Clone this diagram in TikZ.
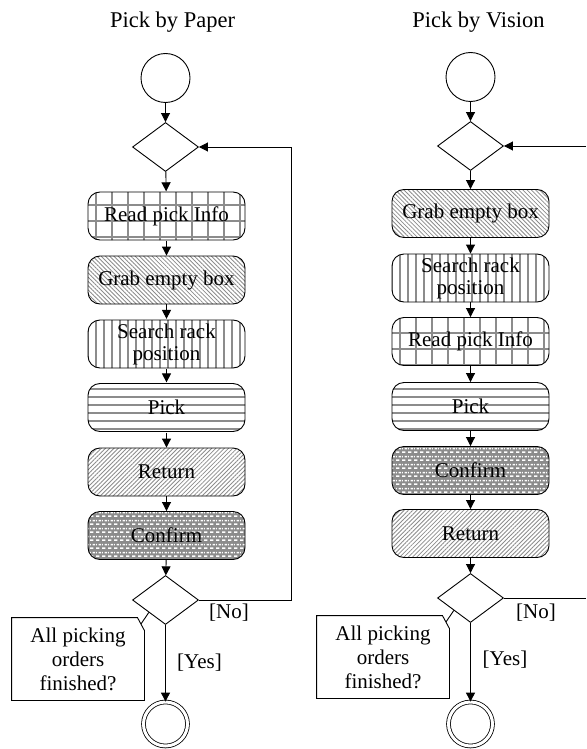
\documentclass[tikz,border=0pt]{standalone}
\usepackage{fontspec}
\setmainfont{Liberation Serif}
\usetikzlibrary{shapes.geometric,arrows.meta,patterns.meta,calc}
\definecolor{pgray}{gray}{0.55}
\definecolor{cgray}{gray}{0.55}
\pgfdeclarepattern{
  name=whitedash,
  type=uncolored,
  bottom left={\pgfpoint{0pt}{0pt}},
  top right={\pgfpoint{6pt}{8pt}},
  tile size={\pgfpoint{6pt}{8pt}},
  code={
    \pgfpathrectangle{\pgfpoint{0pt}{0pt}}{\pgfpoint{4pt}{1.8pt}}
    \pgfpathrectangle{\pgfpoint{3pt}{4pt}}{\pgfpoint{3pt}{1.8pt}}
    \pgfpathrectangle{\pgfpoint{0pt}{4pt}}{\pgfpoint{1pt}{1.8pt}}
    \pgfusepath{fill}
  }
}
\begin{document}
\begin{tikzpicture}[x=1pt,y=-1pt, line width=0.9pt,
  every node/.style={font=\fontsize{21}{23}\selectfont},
  act/.style={draw, rounded corners=12pt, minimum width=157pt, minimum height=48pt, inner sep=0pt, align=center},
  pgrid/.style={act, pattern={Hatch[distance=16pt,line width=1.4pt]}, pattern color=pgray},
  pnw/.style={act, pattern={Lines[angle=-45,distance=3pt,line width=0.85pt]}, pattern color=pgray},
  pne/.style={act, pattern={Lines[angle=45,distance=3pt,line width=0.85pt]}, pattern color=pgray},
  pvert/.style={act, pattern={Lines[angle=90,distance=8pt,line width=2.2pt]}, pattern color=pgray},
  phor/.style={act, pattern={Lines[angle=0,distance=8pt,line width=2.2pt]}, pattern color=pgray},
  pconf/.style={act, preaction={fill=cgray}, pattern=whitedash, pattern color=white},
  startnode/.style={draw, circle, minimum size=49pt, inner sep=0pt},
  endnode/.style={draw, circle, minimum size=44pt, inner sep=0pt, double, double distance=3pt, line width=0.8pt},
  decision/.style={draw, diamond, minimum width=66pt, minimum height=49pt, inner sep=0pt},
  notebox/.style={minimum width=132pt, minimum height=82pt, inner sep=0pt, align=center, font=\fontsize{21}{24}\selectfont},
  lbl/.style={inner sep=0pt},
  arr/.style={-{Triangle[length=9pt,width=9pt]}},
]
\useasboundingbox (0,0) rectangle (586,749);

% ---------- Left: Pick by Paper ----------
\node[lbl, font=\fontsize{22.5}{26}\selectfont] (t1) at (172.5,22) {Pick by Paper};
\node[startnode] (s1) at (165.5,78) {};
\node[decision] (a1) at (165.5,147) {};
\node[pgrid] (l1) at (166.5,216) {Read pick Info};
\node[pnw] (l2) at (166.5,280) {Grab empty box};
\node[pvert] (l3) at (166.5,344) {Search rack\\[-1pt]position};
\node[phor] (l4) at (166.5,407.5) {Pick};
\node[pne] (l5) at (166.5,472) {Return};
\node[pconf] (l6) at (166.5,535.5) {Confirm};
\node[decision] (b1) at (165.5,600) {};
\node[endnode] (e1) at (165.5,724) {};
\node[notebox] (n1) at (78,659) {All picking\\orders\\finished?};
\node[lbl] (no1) at (229,613) {[No]};
\node[lbl] (yes1) at (199.5,663) {[Yes]};
\coordinate (c1) at (291,600);

\draw[arr] (s1) -- (a1);
\draw[arr] (a1) -- (l1);
\draw[arr] (l1) -- (l2);
\draw[arr] (l2) -- (l3);
\draw[arr] (l3) -- (l4);
\draw[arr] (l4) -- (l5);
\draw[arr] (l5) -- (l6);
\draw[arr] (l6) -- (b1);
\draw[arr] (b1) -- (e1);
\draw[arr] (b1.east) -- (c1) |- (a1.east);
\draw (n1.south west) -- (n1.north west) -- ([xshift=-7pt]n1.north east) -- ([yshift=-13pt]n1.north east) -- (n1.south east) -- cycle;
\draw ($([xshift=-7pt]n1.north east)!0.5!([yshift=-13pt]n1.north east)$) -- (b1.south west);

% ---------- Right: Pick by Vision ----------
\node[lbl, font=\fontsize{22.5}{26}\selectfont] (t2) at (478.5,22) {Pick by Vision};
\node[startnode] (s2) at (470.5,77) {};
\node[decision] (a2) at (470.5,146) {};
\node[pnw] (r1) at (470.5,213.5) {Grab empty box};
\node[pvert] (r2) at (470.5,278) {Search rack\\[-1pt]position};
\node[pgrid] (r3) at (470.5,341.5) {Read pick Info};
\node[phor] (r4) at (470.5,406.5) {Pick};
\node[pconf] (r5) at (470.5,470.5) {Confirm};
\node[pne] (r6) at (470.5,533.5) {Return};
\node[decision] (b2) at (470.5,598) {};
\node[endnode] (e2) at (470.5,724) {};
\node[notebox] (n2) at (383,657) {All picking\\orders\\finished?};
\node[lbl] (no2) at (536,613) {[No]};
\node[lbl] (yes2) at (505,660) {[Yes]};
\coordinate (c2a) at (586,598);
\coordinate (c2b) at (586,146);

\draw[arr] (s2) -- (a2);
\draw[arr] (a2) -- (r1);
\draw[arr] (r1) -- (r2);
\draw[arr] (r2) -- (r3);
\draw[arr] (r3) -- (r4);
\draw[arr] (r4) -- (r5);
\draw[arr] (r5) -- (r6);
\draw[arr] (r6) -- (b2);
\draw[arr] (b2) -- (e2);
\draw (b2.east) -- (c2a);
\draw[arr] (c2b) -- (a2.east);
\draw (n2.south west) -- (n2.north west) -- ([xshift=-7pt]n2.north east) -- ([yshift=-13pt]n2.north east) -- (n2.south east) -- cycle;
\draw ($([xshift=-7pt]n2.north east)!0.5!([yshift=-13pt]n2.north east)$) -- (b2.south west);
\end{tikzpicture}
\end{document}
